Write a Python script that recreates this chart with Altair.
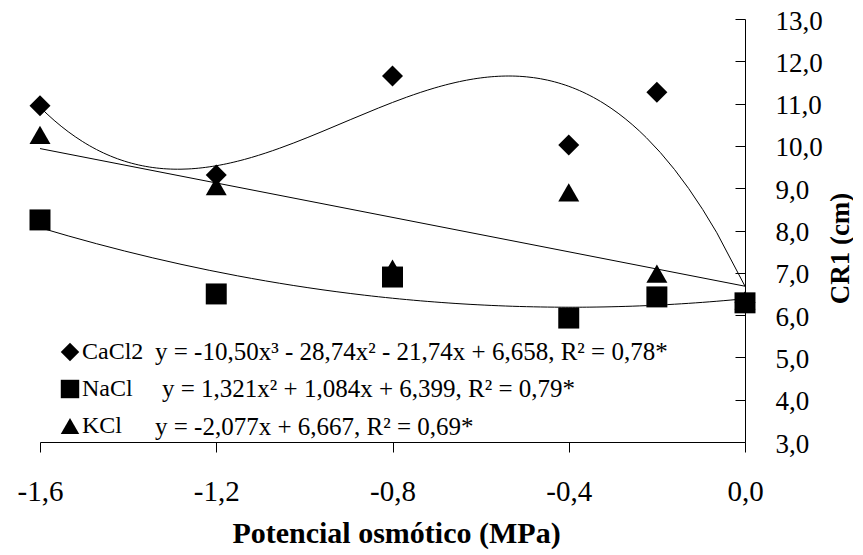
import altair as alt
import pandas as pd

# ---- data ----
x_vals = [-1.6, -1.2, -0.8, -0.4, -0.2, 0.0]
cacl2 = [10.95, 9.31, 11.65, 10.02, 11.27, 6.30]
nacl = [8.25, 6.50, 6.90, 5.93, 6.43, 6.29]
kcl = [10.26, 9.05, 7.10, 8.90, 6.98, 6.35]

series_names = ["CaCl2", "NaCl", "KCl"]
shapes = ["diamond", "square", "triangle-up"]
fit_orders = [3, 2, 1]
equations = [
    "y = -10,50x³ - 28,74x² - 21,74x + 6,658, R² = 0,78*",
    "y = 1,321x² + 1,084x + 6,399, R² = 0,79*",
    "y = -2,077x + 6,667, R² = 0,69*",
]
x_ticks = [-1.6, -1.2, -0.8, -0.4, 0.0]
y_ticks = [3, 4, 5, 6, 7, 8, 9, 10, 11, 12, 13]
x_title = "Potencial osmótico (MPa)"
y_title = "CR1 (cm)"

rows = []
for name, vals in zip(series_names, [cacl2, nacl, kcl]):
    for xv, yv in zip(x_vals, vals):
        rows.append({"series": name, "x": xv, "y": yv})
df = pd.DataFrame(rows)

FONT = "Liberation Serif"
W, H = 705, 423
label_expr = "(datum.value < 0 ? '-' : '') + replace(format(abs(datum.value), '.1f'), '.', ',')"

xscale = alt.Scale(domain=[-1.6, 0], nice=False, zero=False)
yscale = alt.Scale(domain=[3, 13], nice=False, zero=False)

x_axis = alt.Axis(
    values=x_ticks, labelExpr=label_expr, title=x_title, grid=False,
    tickSize=10, tickColor="black", tickWidth=1, domainColor="black", domainWidth=1,
    labelPadding=48, labelBaseline="alphabetic", labelFont=FONT, labelFontSize=29,
    labelColor="black", labelFlush=False,
    titleFont=FONT, titleFontSize=30, titleFontWeight="bold", titleColor="black",
    titleX=356, titleY=100, titleBaseline="alphabetic",
)

y_tick_axis = alt.Axis(
    orient="left", offset=-W, values=y_ticks, labels=False, title=None, grid=False,
    tickSize=10, tickColor="black", tickWidth=1, domainColor="black", domainWidth=1,
)

y_label_axis = alt.Axis(
    orient="right", values=y_ticks, ticks=False, tickSize=0, domain=False, grid=False,
    labelPadding=30, labelOffset=2, labelExpr=label_expr, labelFont=FONT, labelFontSize=27,
    labelColor="black", labelFlush=False,
    title=y_title, titleFont=FONT, titleFontSize=27, titleFontWeight="bold",
    titleColor="black", titleAngle=270, titleX=95, titleY=229,
    titleAlign="center", titleBaseline="middle",
)

points = alt.Chart(df).mark_point(filled=True, opacity=1, color="black", size=440).encode(
    x=alt.X("x:Q", scale=xscale, axis=x_axis),
    y=alt.Y("y:Q", scale=yscale, axis=y_tick_axis),
    shape=alt.Shape(
        "series:N", sort=series_names,
        scale=alt.Scale(domain=series_names, range=shapes),
        legend=alt.Legend(
            orient="none", legendX=18, legendY=321, title=None, padding=0,
            labelFont=FONT, labelFontSize=24, labelColor="black", labelOffset=0,
            symbolSize=340, symbolFillColor="black", symbolStrokeColor="black",
            symbolStrokeWidth=0, rowPadding=13,
        ),
    ),
)

layers = [points]
for i, (name, order) in enumerate(zip(series_names, fit_orders)):
    base = alt.Chart(df).transform_filter(alt.datum.series == name)
    if order > 1:
        base = base.transform_regression("x", "y", method="poly", order=order, extent=[-1.6, 0])
    else:
        base = base.transform_regression("x", "y", method="linear", extent=[-1.6, 0])
    line = base.mark_line(color="black", strokeWidth=1).encode(
        x=alt.X("x:Q", scale=xscale, axis=x_axis),
        y=alt.Y("y:Q", scale=yscale, axis=y_label_axis if i == 0 else None),
    )
    layers.append(line)

eq_pos = [(115, 341), (122, 378), (115, 416)]
for eq, (px, py) in zip(equations, eq_pos):
    t = alt.Chart(pd.DataFrame({"eq": [eq]})).mark_text(
        align="left", baseline="alphabetic", font=FONT, fontSize=25, color="black"
    ).encode(x=alt.value(px), y=alt.value(py), text="eq:N")
    layers.append(t)

chart = alt.layer(*layers).resolve_axis(y="independent").properties(
    width=W, height=H,
    autosize=alt.AutoSizeParams(type="none"),
    padding={"left": 32, "top": 11, "right": 108, "bottom": 108},
).configure_view(strokeWidth=0)

chart.save("out.html", embed_options={"renderer": "svg", "actions": False})
